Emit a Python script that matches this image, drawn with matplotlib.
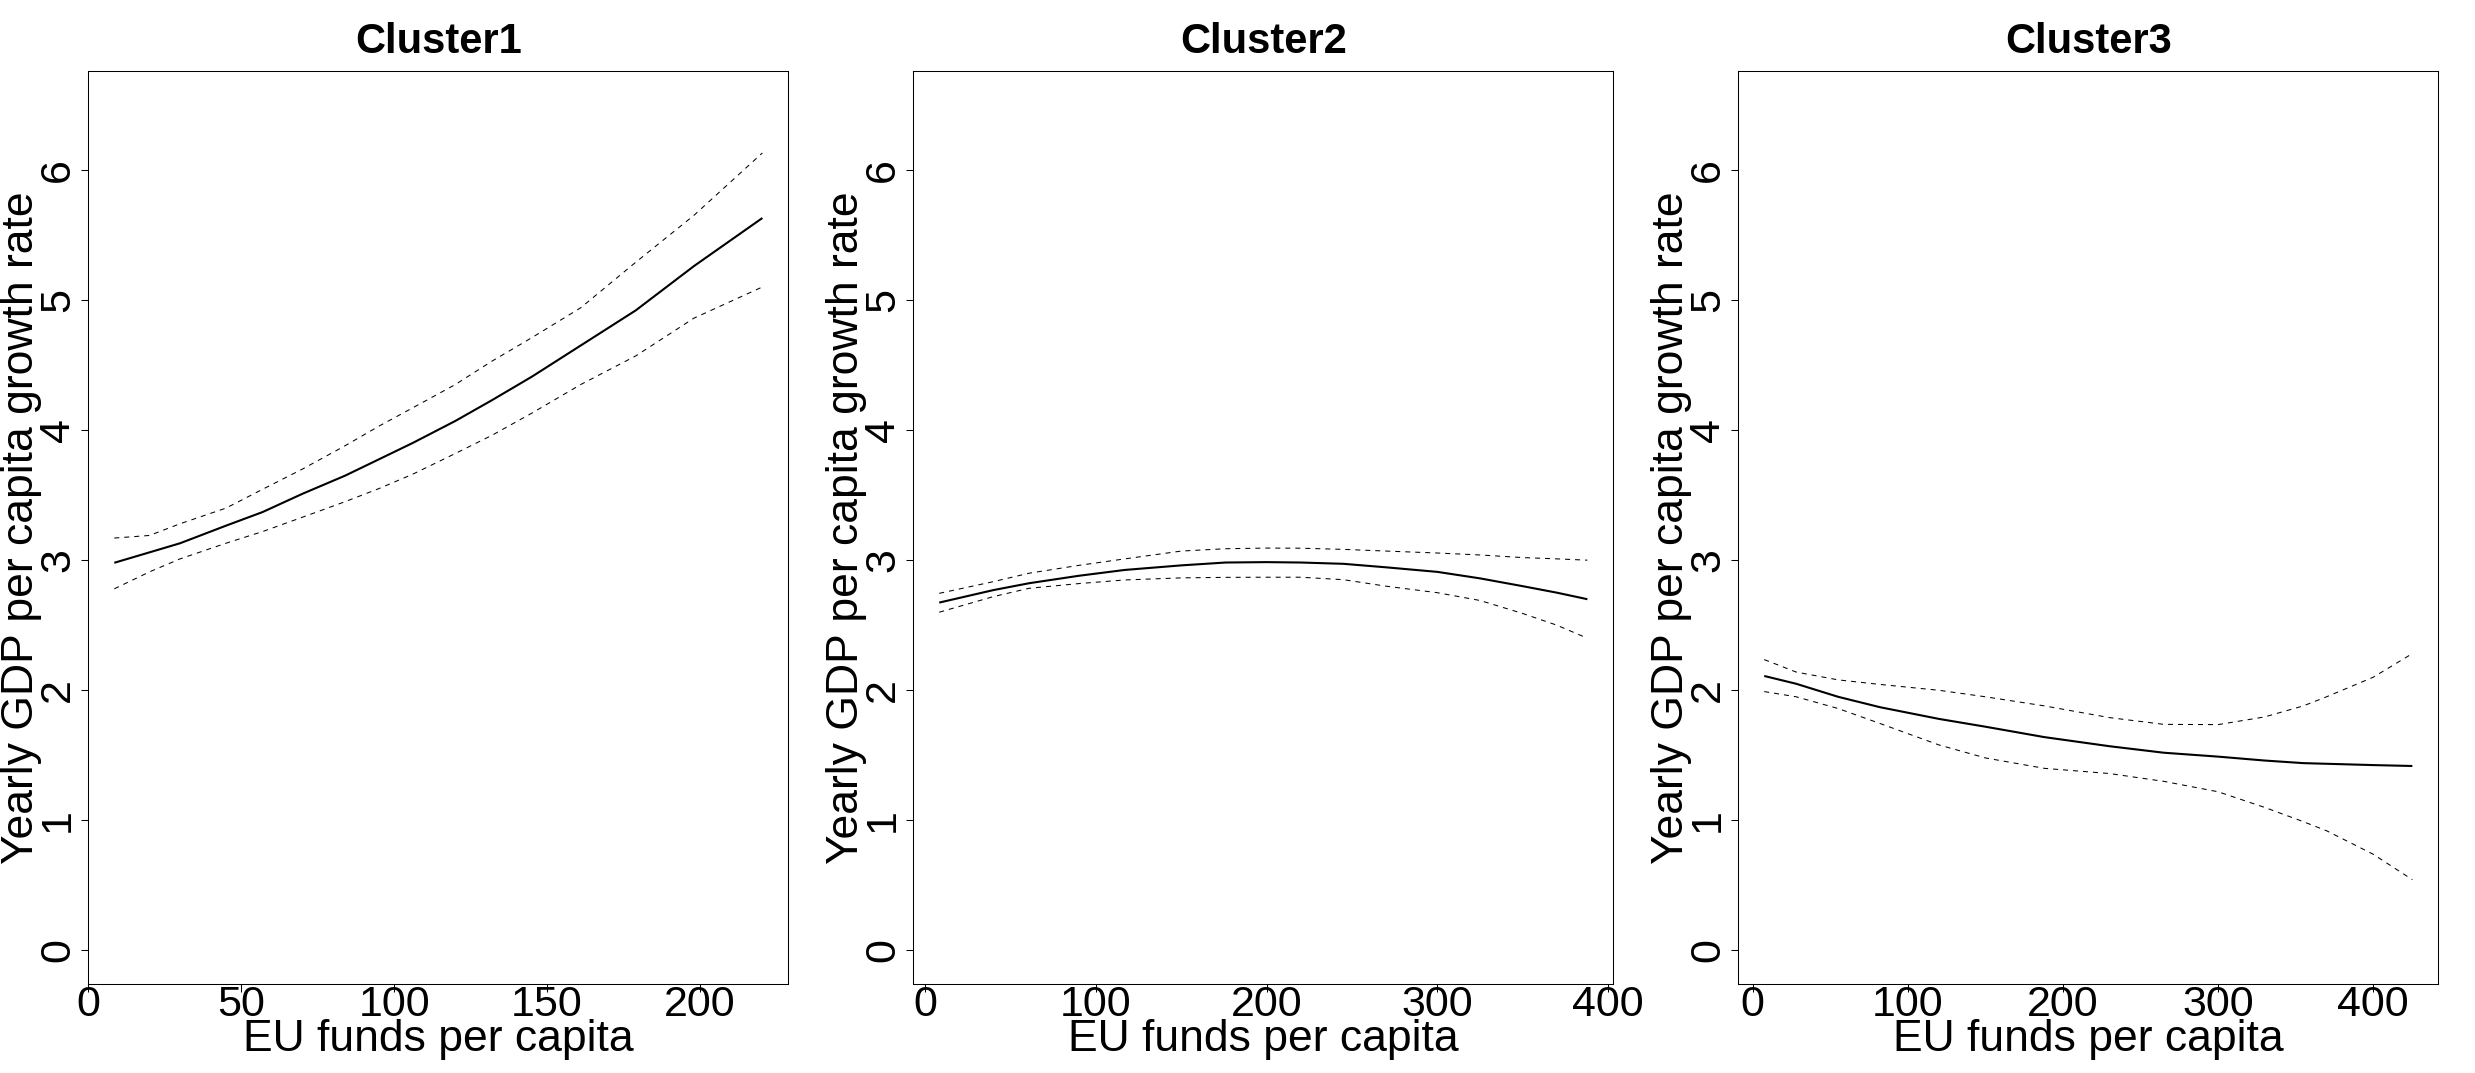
import matplotlib.pyplot as plt
import matplotlib as mpl

mpl.rcParams['font.family'] = ['Liberation Sans', 'DejaVu Sans']

# fitted effect of EU funds per capita on growth, per cluster (fit, upper and lower band)
x1 = [8.5, 20, 30, 45, 57, 70, 84, 95, 106, 120, 132, 145, 161, 179, 198, 220.4]
mid1 = [2.98, 3.06, 3.13, 3.265, 3.37, 3.51, 3.65, 3.775, 3.90, 4.07, 4.23, 4.41, 4.65, 4.92, 5.26, 5.63]
up1 = [3.17, 3.19, 3.28, 3.40, 3.545, 3.70, 3.88, 4.03, 4.17, 4.35, 4.53, 4.71, 4.94, 5.29, 5.65, 6.13]
lo1 = [2.78, 2.91, 3.01, 3.13, 3.22, 3.33, 3.45, 3.55, 3.66, 3.82, 3.96, 4.13, 4.35, 4.57, 4.86, 5.10]

x2 = [8.3, 40, 61, 90, 117, 150, 176, 200, 220, 245, 270, 300, 325, 350, 370, 387.8]
mid2 = [2.674, 2.77, 2.823, 2.88, 2.925, 2.96, 2.982, 2.985, 2.982, 2.972, 2.945, 2.91, 2.86, 2.80, 2.75, 2.70]
up2 = [2.745, 2.835, 2.90, 2.96, 3.01, 3.07, 3.088, 3.093, 3.092, 3.083, 3.07, 3.055, 3.04, 3.02, 3.01, 3.0]
lo2 = [2.60, 2.72, 2.784, 2.82, 2.848, 2.864, 2.868, 2.869, 2.869, 2.85, 2.80, 2.75, 2.69, 2.59, 2.50, 2.40]

x3 = [7.4, 28, 55, 82, 120, 150, 188, 230, 265, 300, 330, 355, 370, 400, 425.3]
mid3 = [2.11, 2.05, 1.95, 1.87, 1.78, 1.72, 1.64, 1.57, 1.52, 1.49, 1.46, 1.44, 1.435, 1.425, 1.418]
up3 = [2.236, 2.14, 2.08, 2.045, 2.0, 1.95, 1.88, 1.79, 1.738, 1.736, 1.795, 1.88, 1.95, 2.10, 2.282]
lo3 = [1.99, 1.95, 1.86, 1.745, 1.58, 1.48, 1.40, 1.36, 1.30, 1.22, 1.10, 0.99, 0.92, 0.74, 0.544]

titles = ['Cluster1', 'Cluster2', 'Cluster3']
xticks = [[0, 50, 100, 150, 200], [0, 100, 200, 300, 400], [0, 100, 200, 300, 400]]
yticks = [0, 1, 2, 3, 4, 5, 6]
ylim = (0, 6.5)

panels = [(x1, mid1, up1, lo1), (x2, mid2, up2, lo2), (x3, mid3, up3, lo3)]

W, H = 2475, 1073
fig = plt.figure(figsize=(W / 100, H / 100), dpi=100)

for i, (x, mid, up, lo) in enumerate(panels):
    left = (88.3 + 825 * i) / W
    ax = fig.add_axes([left, (H - 984.3) / H, 700 / W, 913.3 / H])

    ax.plot(x, mid, color='black', lw=1.5, solid_capstyle='butt')
    ax.plot(x, up, color='black', lw=0.75, dashes=(4.8, 4.8))
    ax.plot(x, lo, color='black', lw=0.75, dashes=(4.8, 4.8))

    # R style 4% padding around the data range
    span = max(x) - min(x)
    ax.set_xlim(min(x) - 0.04 * span, max(x) + 0.04 * span)
    pad_y = 0.04 * (ylim[1] - ylim[0])
    ax.set_ylim(ylim[0] - pad_y, ylim[1] + pad_y)

    ax.set_xticks(xticks[i])
    ax.set_yticks(yticks)
    ax.tick_params(direction='out', length=5.4, width=0.75, labelsize=31)
    ax.tick_params(axis='x', pad=-4.8)
    ax.tick_params(axis='y', labelrotation=90, pad=2)
    for lab in ax.get_yticklabels():
        lab.set_va('center')

    for sp in ax.spines.values():
        sp.set_linewidth(0.75)

    ax.set_title(titles[i], fontsize=30, fontweight='bold', pad=13)
    ax.set_xlabel('EU funds per capita', fontsize=32)
    ax.set_ylabel('Yearly GDP per capita growth rate', fontsize=32)
    ax.xaxis.set_label_coords(0.5, -0.038)
    ax.yaxis.set_label_coords(-0.066, 0.5)

fig.savefig('out.png', dpi=100)
